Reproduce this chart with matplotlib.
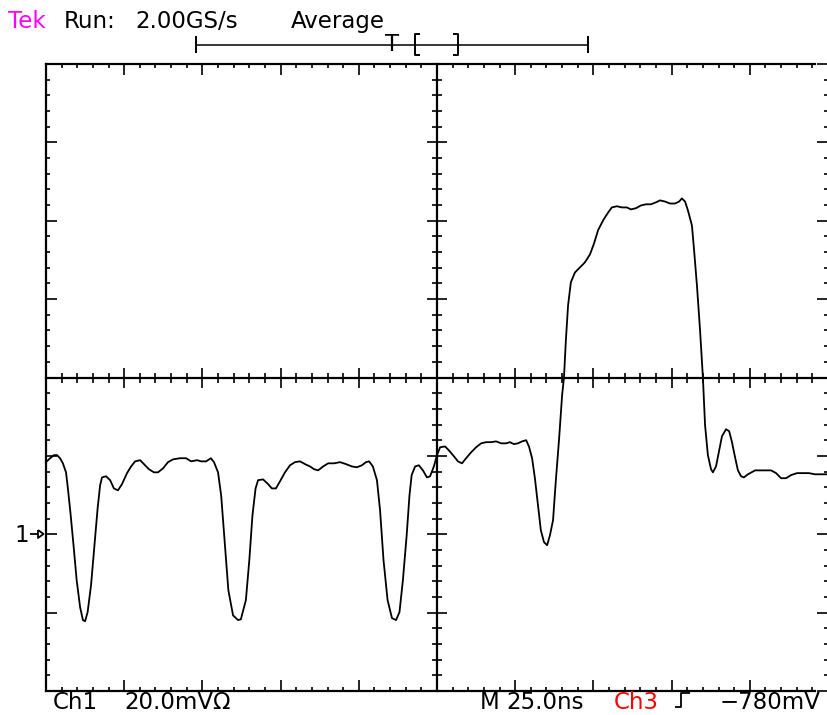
import matplotlib
matplotlib.use("Agg")
import matplotlib.pyplot as plt
from matplotlib.lines import Line2D
from matplotlib.ticker import MultipleLocator

# ---- data: Ch1 trace, time in ns from left screen edge, voltage in mV relative to ground marker
time_ns = [0, 1.3, 2.6, 3.5, 4.5, 5.4, 6.4, 7.0, 7.8, 8.8, 9.8, 10.9, 11.8, 12.5, 13.3, 14.4, 15.5, 16.5,
           17.3, 17.9, 19.2, 20.5, 21.7, 23.0, 24.3, 25.9, 27.2, 28.5, 30.1, 31.3, 32.9, 34.5, 35.8, 37.4,
           39.0, 40.6, 42.8, 44.8, 46.4, 48.3, 49.6, 51.2, 52.7, 53.7, 55.0, 56.0, 57.1, 58.3, 59.8, 61.4,
           62.3, 63.9, 65.0, 66.0, 67.0, 67.8, 69.4, 71.0, 72.2, 73.5, 74.8, 76.4, 78.0, 79.6, 81.2, 82.8,
           84.4, 85.7, 87.0, 88.6, 90.2, 92.1, 94.0, 95.9, 97.8, 99.4, 101.0, 102.3, 103.3, 104.5, 105.8,
           106.8, 107.9, 109.2, 110.6, 111.9, 113.0, 114.1, 115.3, 116.2, 116.9, 118.0, 119.2, 120.5, 121.8,
           122.8, 124.0, 125.0, 126.0, 127.6, 128.8, 130.4, 131.7, 133.0, 134.3, 135.9, 137.5, 139.1, 140.7,
           142.3, 143.9, 145.5, 147.1, 148.3, 149.6, 150.9, 152.2, 153.5, 154.4, 155.4, 156.3, 157.3, 158.2,
           159.2, 160.2, 161.1, 162.1, 163.0, 164.0, 165.0, 165.6, 166.2, 166.9, 167.8, 169.1, 170.7, 172.3,
           173.9, 175.2, 176.5, 178.1, 179.7, 180.9, 182.5, 184.1, 185.7, 187.0, 188.6, 190.2, 191.8, 193.4,
           195.0, 196.3, 197.9, 199.5, 201.1, 202.4, 203.3, 204.3, 205.2, 206.5, 207.2, 208.1, 209.1, 210.0,
           210.7, 211.6, 212.6, 213.2, 214.2, 215.2, 216.1, 217.4, 218.4, 219.3, 220.3, 221.2, 222.2, 223.1,
           224.4, 226.7, 228.3, 230.2, 231.8, 233.4, 235.0, 236.6, 238.2, 240.1, 242.0, 243.9, 245.8, 247.8,
           249.7]
volt_mV = [18.4, 19.4, 20.2, 20.2, 19.4, 18.1, 15.8, 11.7, 5.6, -2.8, -11.7, -18.6, -21.9, -22.2, -19.9, -13.0,
           -2.8, 6.6, 12.5, 14.5, 14.8, 13.8, 11.7, 11.2, 12.8, 15.6, 17.3, 18.6, 18.9, 17.9, 16.6, 15.8, 15.8,
           16.8, 18.4, 19.1, 19.4, 19.4, 18.6, 18.9, 18.6, 18.6, 19.4, 18.4, 15.8, 9.9, -1.5, -14.3, -20.7,
           -21.9, -21.7, -16.8, -6.6, 4.8, 11.7, 13.8, 14.0, 12.8, 11.7, 11.7, 13.5, 15.8, 17.6, 18.4, 18.6,
           17.9, 17.3, 16.6, 16.3, 17.3, 18.1, 18.1, 18.4, 17.9, 17.3, 17.1, 17.6, 18.4, 18.6, 17.3, 13.8,
           6.1, -6.6, -16.8, -21.4, -21.9, -19.9, -11.7, -0.3, 9.9, 15.1, 17.3, 17.6, 16.3, 14.5, 14.8, 17.3,
           20.2, 22.2, 22.4, 21.4, 19.9, 18.6, 18.1, 19.4, 20.9, 22.2, 23.2, 23.5, 23.5, 23.7, 23.2, 23.2,
           23.5, 23.0, 23.2, 23.7, 24.0, 22.4, 19.4, 14.3, 7.4, 1.0, -2.0, -2.8, -0.3, 3.6, 13.8, 24.0, 35.5,
           40.1, 49.5, 58.4, 64.3, 66.8, 68.1, 69.4, 71.4, 74.2, 77.6, 80.1, 82.1, 83.4, 83.7, 83.4, 83.4,
           82.9, 83.2, 83.9, 84.2, 84.2, 84.7, 85.2, 84.9, 84.4, 84.4, 84.9, 85.7, 84.9, 82.7, 78.8, 72.4,
           63.5, 52.0, 40.1, 27.8, 20.2, 16.6, 15.8, 17.3, 21.4, 25.0, 26.8, 26.3, 23.5, 19.6, 16.3, 14.8,
           14.5, 15.3, 16.3, 16.3, 16.3, 16.3, 15.6, 14.3, 14.3, 15.1, 15.6, 15.6, 15.6, 15.3, 15.3, 15.3]

# scope settings
volts_per_div = 20.0   # mV/div
time_per_div = 25.0    # ns/div
n_hdiv = 10
n_vdiv = 8
ground_div = -2        # ground marker position (divisions from centre)

W, H = 827, 715
fig = plt.figure(figsize=(W / 100, H / 100), dpi=100)
fig.patch.set_facecolor("white")


def P(x, y):
    return (x / W, 1 - y / H)


def fline(xs, ys, lw=1.3, color="black"):
    pts = [P(x, y) for x, y in zip(xs, ys)]
    fig.add_artist(Line2D([p[0] for p in pts], [p[1] for p in pts], transform=fig.transFigure,
                          color=color, lw=lw, solid_capstyle="butt"))


left_px, top_px, right_px, bot_px = 46, 64, 828, 691
ax = fig.add_axes([left_px / W, (H - bot_px) / H, (right_px - left_px) / W, (bot_px - top_px) / H])
centre_mV = -ground_div * volts_per_div
ax.set_xlim(0, n_hdiv * time_per_div)
ax.set_ylim(centre_mV - n_vdiv / 2 * volts_per_div, centre_mV + n_vdiv / 2 * volts_per_div)
ax.set_facecolor("none")

for s in ["left", "top", "bottom"]:
    ax.spines[s].set_linewidth(1.6)
    ax.spines[s].set_color("black")
ax.spines["right"].set_visible(False)
ax.spines["top"].set_bounds(0, 246)
ax.spines["bottom"].set_bounds(0, 246)

ax.xaxis.set_major_locator(MultipleLocator(time_per_div))
ax.xaxis.set_minor_locator(MultipleLocator(time_per_div / 5))
ax.yaxis.set_major_locator(MultipleLocator(volts_per_div))
ax.yaxis.set_minor_locator(MultipleLocator(volts_per_div / 5))
ax.tick_params(which="both", direction="in", top=True, right=True, bottom=True, left=True,
               labelbottom=False, labelleft=False, color="black")
ax.tick_params(which="major", length=8, width=1.2)
ax.tick_params(which="minor", length=3.2, width=1.2)

# centre graticule lines as a second axes
ax2 = fig.add_axes(ax.get_position(), sharex=ax, sharey=ax)
ax2.set_facecolor("none")
ax2.spines["top"].set_visible(False)
ax2.spines["right"].set_visible(False)
ax2.spines["left"].set_position(("data", n_hdiv / 2 * time_per_div))
ax2.spines["bottom"].set_position(("data", centre_mV))
ax2.spines["left"].set_linewidth(1.6)
ax2.spines["bottom"].set_linewidth(1.6)
ax2.tick_params(which="both", direction="inout", top=False, right=False,
                labelbottom=False, labelleft=False, color="black")
ax2.tick_params(which="major", length=14.5, width=1.2)
ax2.tick_params(which="minor", length=7, width=1.2)

# trace
ax2.plot(time_ns, volt_mV, color="black", lw=1.3, solid_joinstyle="round", clip_on=False, zorder=5)

fs = 16.5
fam = "DejaVu Sans"


def T(x, y, s, color="black", ha="left", size=fs):
    fig.text(*P(x, y), s, color=color, fontsize=size, family=fam, va="baseline", ha=ha)


# header
T(8, 28, "Tek", color="#ff00ff")
T(64, 28, "Run:")
T(135, 28, "2.00GS/s")
T(291, 28, "Average")

# trigger position bar
fline([196, 588], [45, 45], lw=1.1)
for xe in (196, 588):
    fline([xe, xe], [36, 53], lw=1.4)
T(392, 51, "T", ha="center")
for xb, d in ((415, 1), (458, -1)):
    fline([xb + 5 * d, xb, xb, xb + 5 * d], [34, 34, 55, 55], lw=1.4)

# footer
yb = 709
T(53, yb, "Ch1")
T(124, yb, "20.0mV\u03a9")
T(480, yb, "M")
T(506, yb, "25.0ns")
T(614, yb, "Ch3", color="red")
T(720, yb, "\u2212780mV")
# trigger slope symbol
fline([675, 681, 681, 690], [707, 707, 693, 693], lw=1.3)

# ground marker "1 ->"
T(14, 542, "1")
fline([30, 38], [534, 534], lw=1.3)
fline([38, 43.5, 38, 38], [530, 534, 538, 530], lw=1.3)

fig.savefig("out.png", dpi=100, facecolor="white")
